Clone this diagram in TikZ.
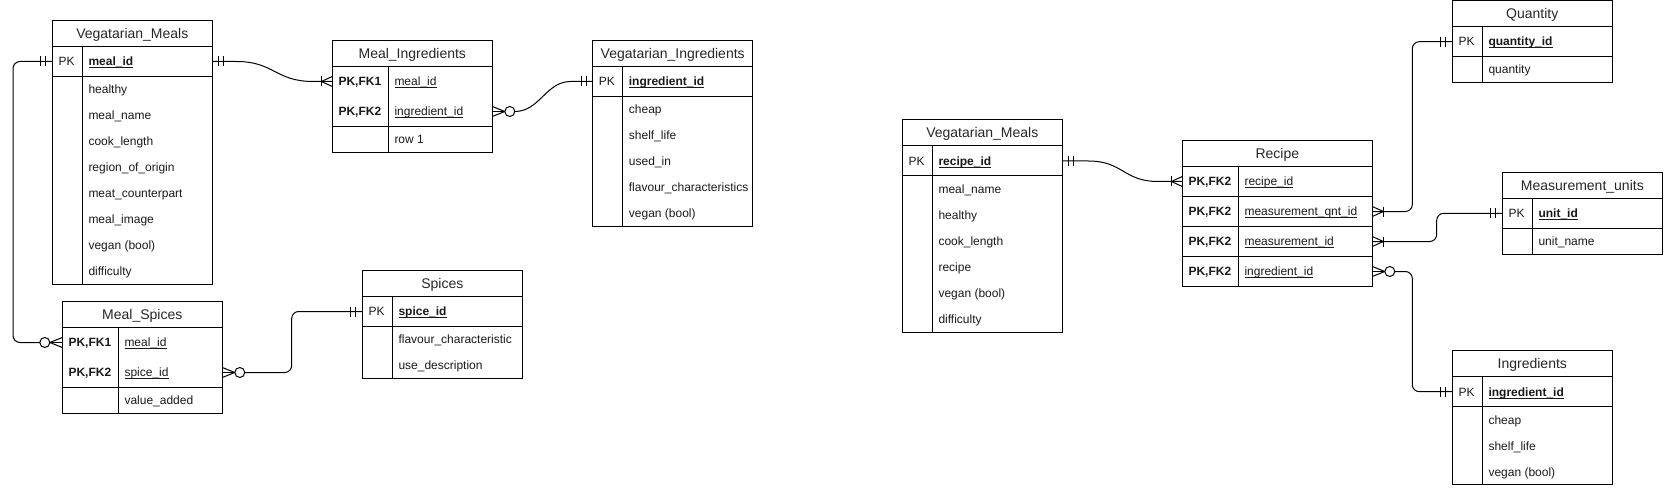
\documentclass[tikz,border=0pt]{standalone}
\usepackage{fontspec}
\setmainfont{Liberation Sans}
\usetikzlibrary{calc}
\newcommand\ulk[1]{\setbox0=\hbox{#1}\rlap{\rule[-2.3pt]{\wd0}{0.8pt}}\box0}
\newcommand\pkf[1]{{\bfseries\ulk{#1}}}
\newcommand\kb[1]{{\bfseries #1}}
\tikzset{
  ln/.style={line width=1pt, draw=black},
  tbl/.style={rectangle, draw=black, line width=1pt, anchor=north west, inner sep=0pt, outer sep=0pt},
  rowbox/.style={rectangle, anchor=north west, inner sep=0pt, outer sep=0pt},
  hdr/.style={anchor=base, inner sep=0pt, font=\fontsize{14pt}{16pt}\selectfont, text=black!85},
  fld/.style={anchor=base west, inner sep=0pt, font=\fontsize{12pt}{14pt}\selectfont, text=black!90},
}
% table box + title: name, x, ytop, width, height, title
\newcommand\ertab[6]{%
  \node[tbl, minimum width=#4pt, minimum height=#5pt] (#1) at (#2,#3) {};
  \node[hdr] (#1-title) at ({#2+#4/2},{#3+18}) {#6};
}
% row: name, x, ytop, width, height, divider offset, key, field
\newcommand\errow[8]{%
  \node[rowbox, minimum width=#4pt, minimum height=#5pt] (#1) at (#2,#3) {};
  \node[fld] (#1-k) at ({#2+6},{#3+#5/2+4.3}) {#7};
  \node[fld] (#1-f) at ({#2+#6+6},{#3+#5/2+4.3}) {#8};
}
% markers: anchor, direction sign (+1 right, -1 left)
\newcommand\mone[2]{%
  \draw[ln] ([xshift=#2*6.5pt]#1) ++(0,-5) -- ++(0,10);
  \draw[ln] ([xshift=#2*11.5pt]#1) ++(0,-5) -- ++(0,10);
}
\newcommand\mmany[2]{%
  \draw[ln] ([yshift=5pt]#1) -- ([xshift=#2*11pt]#1) -- ([yshift=-5pt]#1);
  \draw[ln] ([xshift=#2*11pt]#1) ++(0,-5) -- ++(0,10);
}
\newcommand\mzmany[2]{%
  \draw[ln] ([yshift=5pt]#1) -- ([xshift=#2*12.5pt]#1) -- ([yshift=-5pt]#1);
  \draw[ln] (#1) -- ([xshift=#2*12.5pt]#1);
  \draw[ln, fill=white] ([xshift=#2*17.5pt]#1) circle[radius=5pt];
}
\begin{document}
\begin{tikzpicture}[x=1pt, y=-1pt]
\useasboundingbox (0,0) rectangle (1666,492);

% ---------- Vegatarian_Meals (left) ----------
\ertab{vm}{52.3}{20.5}{160}{264}{Vegatarian\_Meals}
\errow{vm-pk}{52.3}{46.5}{160}{30}{30}{PK}{\pkf{meal\_id}}
\errow{vm-a1}{52.3}{76.5}{160}{26}{30}{}{healthy}
\errow{vm-a2}{52.3}{102.5}{160}{26}{30}{}{meal\_name}
\errow{vm-a3}{52.3}{128.5}{160}{26}{30}{}{cook\_length}
\errow{vm-a4}{52.3}{154.5}{160}{26}{30}{}{region\_of\_origin}
\errow{vm-a5}{52.3}{180.5}{160}{26}{30}{}{meat\_counterpart}
\errow{vm-a6}{52.3}{206.5}{160}{26}{30}{}{meal\_image}
\errow{vm-a7}{52.3}{232.5}{160}{26}{30}{}{vegan (bool)}
\errow{vm-a8}{52.3}{258.5}{160}{26}{30}{}{difficulty}
\draw[ln] (vm-pk.north west) -- (vm-pk.north east);
\draw[ln] (vm-pk.south west) -- (vm-pk.south east);
\draw[ln] ([xshift=30pt]vm-pk.north west) -- ([xshift=30pt]vm.south west);

% ---------- Meal_Ingredients ----------
\ertab{mi}{332.3}{40.5}{160}{112}{Meal\_Ingredients}
\errow{mi-r1}{332.3}{66.5}{160}{30}{56}{\kb{PK,FK1}}{\ulk{meal\_id}}
\errow{mi-r2}{332.3}{96.5}{160}{30}{56}{\kb{PK,FK2}}{\ulk{ingredient\_id}}
\errow{mi-r3}{332.3}{126.5}{160}{26}{56}{}{row 1}
\draw[ln] (mi-r1.north west) -- (mi-r1.north east);
\draw[ln] (mi-r2.south west) -- (mi-r2.south east);
\draw[ln] ([xshift=56pt]mi-r1.north west) -- ([xshift=56pt]mi.south west);

% ---------- Vegatarian_Ingredients ----------
\ertab{vi}{592.7}{40.5}{160}{186}{Vegatarian\_Ingredients}
\errow{vi-pk}{592.7}{66.5}{160}{30}{30}{PK}{\pkf{ingredient\_id}}
\errow{vi-a1}{592.7}{96.5}{160}{26}{30}{}{cheap}
\errow{vi-a2}{592.7}{122.5}{160}{26}{30}{}{shelf\_life}
\errow{vi-a3}{592.7}{148.5}{160}{26}{30}{}{used\_in}
\errow{vi-a4}{592.7}{174.5}{160}{26}{30}{}{flavour\_characteristics}
\errow{vi-a5}{592.7}{200.5}{160}{26}{30}{}{vegan (bool)}
\draw[ln] (vi-pk.north west) -- (vi-pk.north east);
\draw[ln] (vi-pk.south west) -- (vi-pk.south east);
\draw[ln] ([xshift=30pt]vi-pk.north west) -- ([xshift=30pt]vi.south west);

% ---------- Meal_Spices ----------
\ertab{ms}{62.3}{301.5}{160}{112}{Meal\_Spices}
\errow{ms-r1}{62.3}{327.5}{160}{30}{56}{\kb{PK,FK1}}{\ulk{meal\_id}}
\errow{ms-r2}{62.3}{357.5}{160}{30}{56}{\kb{PK,FK2}}{\ulk{spice\_id}}
\errow{ms-r3}{62.3}{387.5}{160}{26}{56}{}{value\_added}
\draw[ln] (ms-r1.north west) -- (ms-r1.north east);
\draw[ln] (ms-r2.south west) -- (ms-r2.south east);
\draw[ln] ([xshift=56pt]ms-r1.north west) -- ([xshift=56pt]ms.south west);

% ---------- Spices ----------
\ertab{sp}{362.3}{270.5}{160}{108}{Spices}
\errow{sp-pk}{362.3}{296.5}{160}{30}{30}{PK}{\pkf{spice\_id}}
\errow{sp-a1}{362.3}{326.5}{160}{26}{30}{}{flavour\_characteristic}
\errow{sp-a2}{362.3}{352.5}{160}{26}{30}{}{use\_description}
\draw[ln] (sp-pk.north west) -- (sp-pk.north east);
\draw[ln] (sp-pk.south west) -- (sp-pk.south east);
\draw[ln] ([xshift=30pt]sp-pk.north west) -- ([xshift=30pt]sp.south west);

% ---------- Vegatarian_Meals (right) ----------
\ertab{vn}{902.3}{120}{160}{212}{Vegatarian\_Meals}
\errow{vn-pk}{902.3}{146}{160}{30}{30}{PK}{\pkf{recipe\_id}}
\errow{vn-a1}{902.3}{176}{160}{26}{30}{}{meal\_name}
\errow{vn-a2}{902.3}{202}{160}{26}{30}{}{healthy}
\errow{vn-a3}{902.3}{228}{160}{26}{30}{}{cook\_length}
\errow{vn-a4}{902.3}{254}{160}{26}{30}{}{recipe}
\errow{vn-a5}{902.3}{280}{160}{26}{30}{}{vegan (bool)}
\errow{vn-a6}{902.3}{306}{160}{26}{30}{}{difficulty}
\draw[ln] (vn-pk.north west) -- (vn-pk.north east);
\draw[ln] (vn-pk.south west) -- (vn-pk.south east);
\draw[ln] ([xshift=30pt]vn-pk.north west) -- ([xshift=30pt]vn.south west);

% ---------- Recipe ----------
\ertab{re}{1182.3}{140.5}{190}{146}{Recipe}
\errow{re-r1}{1182.3}{166.5}{190}{30}{56}{\kb{PK,FK2}}{\ulk{recipe\_id}}
\errow{re-r2}{1182.3}{196.5}{190}{30}{56}{\kb{PK,FK2}}{\ulk{measurement\_qnt\_id}}
\errow{re-r3}{1182.3}{226.5}{190}{30}{56}{\kb{PK,FK2}}{\ulk{measurement\_id}}
\errow{re-r4}{1182.3}{256.5}{190}{30}{56}{\kb{PK,FK2}}{\ulk{ingredient\_id}}
\draw[ln] (re-r1.north west) -- (re-r1.north east);
\draw[ln] (re-r1.south west) -- (re-r1.south east);
\draw[ln] (re-r2.south west) -- (re-r2.south east);
\draw[ln] (re-r3.south west) -- (re-r3.south east);
\draw[ln] ([xshift=56pt]re-r1.north west) -- ([xshift=56pt]re.south west);

% ---------- Quantity ----------
\ertab{qt}{1452.3}{0.7}{160}{82}{Quantity}
\errow{qt-pk}{1452.3}{26.7}{160}{30}{30}{PK}{\pkf{quantity\_id}}
\errow{qt-a1}{1452.3}{56.7}{160}{26}{30}{}{quantity}
\draw[ln] (qt-pk.north west) -- (qt-pk.north east);
\draw[ln] (qt-pk.south west) -- (qt-pk.south east);
\draw[ln] ([xshift=30pt]qt-pk.north west) -- ([xshift=30pt]qt.south west);

% ---------- Measurement_units ----------
\ertab{mu}{1502.3}{172.3}{160}{82}{Measurement\_units}
\errow{mu-pk}{1502.3}{198.3}{160}{30}{30}{PK}{\pkf{unit\_id}}
\errow{mu-a1}{1502.3}{228.3}{160}{26}{30}{}{unit\_name}
\draw[ln] (mu-pk.north west) -- (mu-pk.north east);
\draw[ln] (mu-pk.south west) -- (mu-pk.south east);
\draw[ln] ([xshift=30pt]mu-pk.north west) -- ([xshift=30pt]mu.south west);

% ---------- Ingredients ----------
\ertab{ing}{1452.3}{350.7}{160}{134}{Ingredients}
\errow{ing-pk}{1452.3}{376.7}{160}{30}{30}{PK}{\pkf{ingredient\_id}}
\errow{ing-a1}{1452.3}{406.7}{160}{26}{30}{}{cheap}
\errow{ing-a2}{1452.3}{432.7}{160}{26}{30}{}{shelf\_life}
\errow{ing-a3}{1452.3}{458.7}{160}{26}{30}{}{vegan (bool)}
\draw[ln] (ing-pk.north west) -- (ing-pk.north east);
\draw[ln] (ing-pk.south west) -- (ing-pk.south east);
\draw[ln] ([xshift=30pt]ing-pk.north west) -- ([xshift=30pt]ing.south west);

% ---------- connectors ----------
\coordinate (c3) at (13,200);
\coordinate (c4) at (291.7,340);
\coordinate (c6) at (1412.3,120);
\coordinate (c7) at (1436.7,230);
\coordinate (c8) at (1412.3,330);

% C1 Vegatarian_Meals -> Meal_Ingredients
\draw[ln] (vm-pk.east) -- ([xshift=24pt]vm-pk.east) .. controls +(38,0) and +(-38,0) .. ([xshift=-19pt]mi-r1.west) -- (mi-r1.west);
\mone{vm-pk.east}{1}
\mmany{mi-r1.west}{-1}

% C2 Meal_Ingredients -> Vegatarian_Ingredients
\draw[ln] ([xshift=22.5pt]mi-r2.east) .. controls +(25,0) and +(-25,0) .. ([xshift=-22pt]vi-pk.west) -- (vi-pk.west);
\mzmany{mi-r2.east}{1}
\mone{vi-pk.west}{-1}

% C3 Vegatarian_Meals -> Meal_Spices
\draw[ln, rounded corners=7pt] (vm-pk.west) -- (vm-pk.west -| c3) -- (c3 |- ms-r1.west) -- ([xshift=-22.5pt]ms-r1.west);
\mone{vm-pk.west}{-1}
\mzmany{ms-r1.west}{-1}

% C4 Meal_Spices -> Spices
\draw[ln, rounded corners=7pt] ([xshift=22.5pt]ms-r2.east) -- (ms-r2.east -| c4) -- (c4 |- sp-pk.west) -- (sp-pk.west);
\mzmany{ms-r2.east}{1}
\mone{sp-pk.west}{-1}

% C5 Vegatarian_Meals (right) -> Recipe
\draw[ln] (vn-pk.east) -- ([xshift=26pt]vn-pk.east) .. controls +(35,0) and +(-35,0) .. ([xshift=-24pt]re-r1.west) -- (re-r1.west);
\mone{vn-pk.east}{1}
\mmany{re-r1.west}{-1}

% C6 Recipe -> Quantity
\draw[ln, rounded corners=7pt] (re-r2.east) -- (re-r2.east -| c6) -- (c6 |- qt-pk.west) -- (qt-pk.west);
\mmany{re-r2.east}{1}
\mone{qt-pk.west}{-1}

% C7 Recipe -> Measurement_units
\draw[ln, rounded corners=7pt] (re-r3.east) -- (re-r3.east -| c7) -- (c7 |- mu-pk.west) -- (mu-pk.west);
\mmany{re-r3.east}{1}
\mone{mu-pk.west}{-1}

% C8 Recipe -> Ingredients
\draw[ln, rounded corners=7pt] ([xshift=22.5pt]re-r4.east) -- (re-r4.east -| c8) -- (c8 |- ing-pk.west) -- (ing-pk.west);
\mzmany{re-r4.east}{1}
\mone{ing-pk.west}{-1}
\end{tikzpicture}
\end{document}
